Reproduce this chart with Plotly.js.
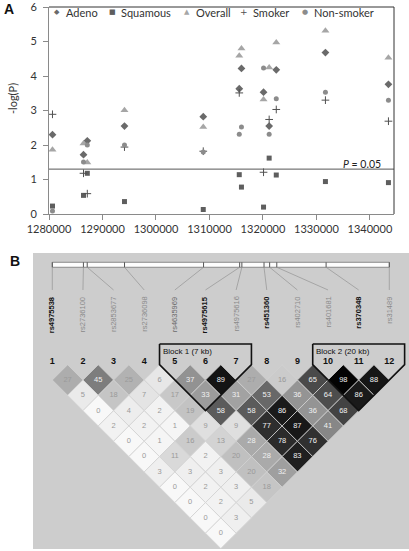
<!DOCTYPE html>
<html><head><meta charset="utf-8">
<script src="https://cdn.plot.ly/plotly-3.0.1.min.js"></script>
<style>html,body{margin:0;padding:0;background:#fff}</style>
</head><body><div id="chart" style="width:409px;height:551px"></div>
<script>
// ---------- Panel A data ----------
const snpNames = ['rs4975538','rs2736100','rs2853677','rs2736098','rs4635969','rs4975615','rs4975616','rs451360','rs402710','rs401681','rs370348','rs31489'];
const snpPositions = [1280650,1286450,1287160,1294110,1308840,1315570,1315980,1320110,1321160,1322490,1331680,1343460];
const adeno     = [2.30,1.72,2.12,2.55,2.82,3.63,4.22,3.53,2.55,4.18,4.68,3.76];
const squamous  = [0.23,0.54,1.18,0.36,0.13,1.14,0.78,0.20,1.62,1.13,0.94,0.91];
const overall   = [1.86,2.04,1.49,3.01,2.52,4.59,4.80,3.32,4.25,4.97,5.31,4.53];
const smoker    = [2.89,1.18,0.59,1.94,1.82,3.51,null,1.21,2.74,3.03,3.30,2.69];
const nonSmoker = [0.09,1.51,2.00,2.00,1.80,2.31,2.52,4.23,2.31,3.34,3.53,3.30];
const threshold = -Math.log10(0.05); // P = 0.05
const seriesNames = ['Adeno','Squamous','Overall','Smoker','Non-smoker'];
const yTicks = [0,1,2,3,4,5,6];

// ---------- Panel B data ----------
const snpLabelBold = [true,false,false,false,false,true,false,true,false,false,true,false];
// r^2 (x100) by SNP distance: row k holds pairs (i, i+k)
const ldByDistance = [
  [27,45,25,6,37,89,27,16,65,98,88],
  [5,18,7,17,33,31,53,36,64,86],
  [0,4,2,19,58,58,86,36,68],
  [2,2,1,9,9,77,87,41],
  [0,1,16,13,28,78,76],
  [0,11,2,20,28,83],
  [3,3,3,20,32],
  [0,2,3,18],
  [0,2,5],
  [0,3],
  [0]
];
const blockStarts = [5,10];
const blockEnds   = [7,12];
const blockLabels = ['Block 1 (7 kb)','Block 2 (20 kb)'];

// ---------- helpers ----------
const nSnp = snpNames.length;
const idx = snpNames.map((_, i) => i + 1);
function shade(v){ const g = Math.round(248*Math.pow(1 - v/100, 1.15)); return 'rgb('+g+','+g+','+g+')'; }
const mapX = p => 1 + (p - snpPositions[0])/(snpPositions[nSnp-1]-snpPositions[0])*(nSnp-1);

// layout constants for panel B (in units of SNP spacing)
const barTop = -3.342, barBot = -3.179, connEnd = -2.438, labelTop = -2.275, numY = -0.098, blockTop = -0.676, blockLabY = -0.424;

const traces = [];
const colA = {adeno:'#6a6a6a', squam:'#5e5e5e', overall:'#a6a6a6', smoker:'#505050', non:'#8c8c8c'};
traces.push({type:'scatter', mode:'markers', name:seriesNames[0], x:snpPositions, y:adeno, marker:{symbol:'diamond', size:6, color:colA.adeno}});
traces.push({type:'scatter', mode:'markers', name:seriesNames[1], x:snpPositions, y:squamous, marker:{symbol:'square', size:5, color:colA.squam}});
traces.push({type:'scatter', mode:'markers', name:seriesNames[2], x:snpPositions, y:overall, marker:{symbol:'triangle-up', size:7, color:colA.overall}});
traces.push({type:'scatter', mode:'markers', name:seriesNames[3], x:snpPositions, y:smoker, marker:{symbol:'cross-thin', size:5.5, color:colA.smoker, line:{color:colA.smoker, width:1}}});
traces.push({type:'scatter', mode:'markers', name:seriesNames[4], x:snpPositions, y:nonSmoker, marker:{symbol:'circle', size:5, color:colA.non}});

// LD cells
const cellX = [], cellY = [], cellT = [], cellC = [];
ldByDistance.forEach((row, k) => {
  const d = k + 1;
  row.forEach((v, m) => {
    const i = m + 1, j = i + d;
    const cx = (i + j)/2, cy = d/2;
    traces.push({type:'scatter', mode:'lines', x:[cx, cx+0.5, cx, cx-0.5, cx], y:[cy-0.5, cy, cy+0.5, cy, cy-0.5],
      fill:'toself', fillcolor:shade(v), line:{color:'#d2d2d2', width:0.8}, xaxis:'x2', yaxis:'y2', hoverinfo:'skip'});
    cellX.push(cx); cellY.push(cy); cellT.push(String(v)); cellC.push(v >= 28 ? '#f0f0f0' : '#9a9a9a');
  });
});
traces.push({type:'scatter', mode:'text', x:cellX, y:cellY, text:cellT, textposition:'middle center',
  textfont:{family:'Liberation Sans, Arial, sans-serif', size:7.5, color:cellC}, xaxis:'x2', yaxis:'y2', hoverinfo:'skip'});

// block outlines
blockStarts.forEach((a, b0) => {
  const b = blockEnds[b0];
  traces.push({type:'scatter', mode:'lines',
    x:[a-0.5, b+0.5, b+0.5, (a+b)/2, a-0.5, a-0.5],
    y:[blockTop, blockTop, 0, (b-a+1)/2, 0, blockTop],
    line:{color:'#111', width:1.6}, xaxis:'x2', yaxis:'y2', hoverinfo:'skip'});
});

// map ticks and connectors
const tickX = [], tickY = [], connX = [], connY = [];
snpPositions.forEach((p, k) => {
  const mx = mapX(p);
  tickX.push(mx, mx, null); tickY.push(barTop, barBot, null);
  connX.push(mx, k+1, null); connY.push(barBot, connEnd, null);
});
traces.push({type:'scatter', mode:'lines', x:connX, y:connY, line:{color:'#9a9a9a', width:0.8}, xaxis:'x2', yaxis:'y2', hoverinfo:'skip'});
traces.push({type:'scatter', mode:'lines', x:tickX, y:tickY, line:{color:'#555', width:1}, xaxis:'x2', yaxis:'y2', hoverinfo:'skip'});

// SNP numbers
traces.push({type:'scatter', mode:'text', x:idx, y:idx.map(() => numY), text:idx.map(String), textposition:'middle center',
  textfont:{family:'Liberation Sans, Arial, sans-serif', size:9, color:'#111', weight:'bold'}, xaxis:'x2', yaxis:'y2', hoverinfo:'skip'});

const annotations = [];
// panel letters
annotations.push({xref:'paper', yref:'paper', x:2/409, y:1-9/551, xanchor:'left', yanchor:'middle', text:'<b>A</b>', showarrow:false, font:{family:'Liberation Sans, Arial, sans-serif', size:14, color:'#111'}});
annotations.push({xref:'paper', yref:'paper', x:8/409, y:1-261/551, xanchor:'left', yanchor:'middle', text:'<b>B</b>', showarrow:false, font:{family:'Liberation Sans, Arial, sans-serif', size:14, color:'#111'}});
// y title
annotations.push({xref:'paper', yref:'paper', x:13/409, y:1-99/551, xanchor:'center', yanchor:'middle', textangle:-90, text:'-log(P)', showarrow:false, font:{family:'Lato, sans-serif', size:11, color:'#333'}});
// P = 0.05 label
annotations.push({xref:'x domain', yref:'y', x:0.968, y:threshold, xanchor:'right', yanchor:'middle', yshift:5, text:'<i>P</i> = 0.05', showarrow:false, font:{family:'Lato, sans-serif', size:10.5, color:'#222'}});
// manual legend
const legGlyph = ['\u25C6','\u25A0','\u25B2','+','\u25CF'];
const legGlyphColor = [colA.adeno, colA.squam, colA.overall, colA.smoker, colA.non];
const legGlyphX = [57, 112, 187, 244, 305];
const legTextX = [64, 119, 193.5, 251, 311.5];
seriesNames.forEach((nm, k) => {
  annotations.push({xref:'paper', yref:'paper', x:legGlyphX[k]/409, y:1-12/551, xanchor:'center', yanchor:'middle', text:legGlyph[k], showarrow:false,
    font:{family:'DejaVu Sans, sans-serif', size:k===3?9:7, color:legGlyphColor[k]}});
  annotations.push({xref:'paper', yref:'paper', x:legTextX[k]/409, y:1-12/551, xanchor:'left', yanchor:'middle', text:nm, showarrow:false,
    font:{family:'Lato, sans-serif', size:11, color:'#333'}});
});
// SNP name labels
snpNames.forEach((nm, k) => {
  annotations.push({xref:'x2', yref:'y2', x:k+1, y:labelTop, xanchor:'center', yanchor:'top', textangle:-90, showarrow:false,
    text: snpLabelBold[k] ? '<b>'+nm+'</b>' : nm,
    font:{family:'Liberation Sans, Arial, sans-serif', size:7.5, color: snpLabelBold[k] ? '#111' : (k===4 ? '#6a6a6a' : '#8a8a8a')}});
});
// block labels
blockStarts.forEach((a, k) => {
  annotations.push({xref:'x2', yref:'y2', x:a-0.5+0.05, y:blockLabY, xanchor:'left', yanchor:'middle', text:blockLabels[k], showarrow:false,
    font:{family:'Liberation Sans, Arial, sans-serif', size:8, color:'#111'}});
});

const shapes = [
  {type:'rect', xref:'x2 domain', yref:'y2 domain', x0:0, x1:1, y0:0, y1:1, fillcolor:'#cdcdcd', line:{width:0}, layer:'below'},
  {type:'rect', xref:'x2', yref:'y2', x0:1, x1:nSnp, y0:barTop, y1:barBot, fillcolor:'#fdfdfd', line:{color:'#8a8a8a', width:1}, layer:'below'},
  {type:'line', xref:'x domain', yref:'y', x0:0, x1:1, y0:threshold, y1:threshold, line:{color:'#555', width:1}},
  {type:'line', xref:'x domain', yref:'y domain', x0:0, x1:1, y0:1, y1:1, line:{color:'#333', width:1}},
  {type:'line', xref:'x domain', yref:'y domain', x0:1, x1:1, y0:0, y1:1, line:{color:'#333', width:1}}
];

const layout = {
  width:409, height:551, margin:{l:0, r:0, t:0, b:0}, paper_bgcolor:'#fff', plot_bgcolor:'#fff', showlegend:false,
  font:{family:'Lato, sans-serif', size:11, color:'#333'},
  xaxis:{domain:[49/409, 394/409], range:[1280000, 1344500], tick0:1280000, dtick:10000, tickformat:'d', showgrid:false, zeroline:false,
    showline:true, linecolor:'#8a8a8a', linewidth:1, ticks:'outside', ticklen:5, tickcolor:'#8a8a8a', tickfont:{size:11, color:'#333'}, anchor:'y', fixedrange:true},
  yaxis:{domain:[1-214/551, 1-7/551], range:[0, 6], tickmode:'array', tickvals:yTicks, ticktext:yTicks.map(String), showgrid:false, zeroline:false, showline:true, linecolor:'#8a8a8a', linewidth:1,
    ticks:'outside', ticklen:5, tickcolor:'#8a8a8a', ticklabelstandoff:4, ticklabeloverflow:'allow', tickfont:{size:11, color:'#333'}, anchor:'x', fixedrange:true},
  xaxis2:{domain:[33/409, 1], range:[0.370, 12.643], visible:false, anchor:'y2', fixedrange:true},
  yaxis2:{domain:[1-549/551, 1-253/551], range:[6.015, -3.645], visible:false, anchor:'x2', fixedrange:true},
  shapes:shapes, annotations:annotations
};

Plotly.newPlot('chart', traces, layout, {staticPlot:true, displayModeBar:false});
</script></body></html>
